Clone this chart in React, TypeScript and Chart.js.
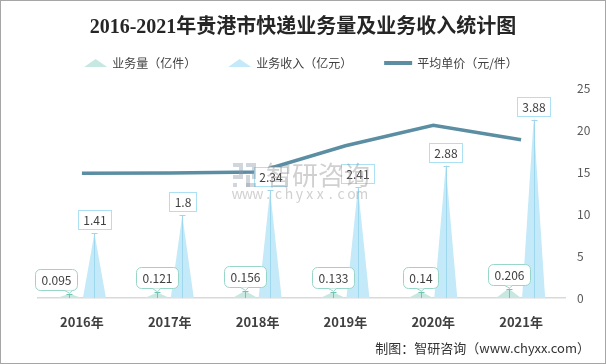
import React, { useEffect, useRef } from 'react';
import { Chart, registerables } from 'chart.js';

Chart.register(...registerables);

const years = ['2016年', '2017年', '2018年', '2019年', '2020年', '2021年'];
const volume = [0.095, 0.121, 0.156, 0.133, 0.14, 0.206];
const revenue = [1.41, 1.8, 2.34, 2.41, 2.88, 3.88];
const avgPrice = [14.84, 14.88, 15.0, 18.12, 20.57, 18.83];
const seriesNames = ['业务量（亿件）', '业务收入（亿元）', '平均单价（元/件）'];
const titleText = '2016-2021年贵港市快递业务量及业务收入统计图';
const footerText = '制图：智研咨询（www.chyxx.com）';

const FONT = '"Noto Sans CJK SC", "Noto Sans", sans-serif';
const GREEN = '#c7e7e1';
const GREEN_LINE = '#6fc4b2';
const GREEN_BORDER = '#98d6c9';
const BLUE = '#c4e9f8';
const BLUE_LINE = '#9ed8ef';
const BLUE_BORDER = '#ace0f3';
const LINE = '#5b8ea3';
const TEXT = '#404040';

function roundRect(ctx: CanvasRenderingContext2D, x: number, y: number, w: number, h: number, r: number) {
  ctx.beginPath();
  ctx.moveTo(x + r, y);
  ctx.lineTo(x + w - r, y);
  ctx.arcTo(x + w, y, x + w, y + r, r);
  ctx.lineTo(x + w, y + h - r);
  ctx.arcTo(x + w, y + h, x + w - r, y + h, r);
  ctx.lineTo(x + r, y + h);
  ctx.arcTo(x, y + h, x, y + h - r, r);
  ctx.lineTo(x, y + r);
  ctx.arcTo(x, y, x + r, y, r);
  ctx.closePath();
}

const spikePlugin = {
  id: 'spikes',
  beforeDatasetsDraw(chart: any) {
    const ctx: CanvasRenderingContext2D = chart.ctx;
    ctx.save();
    [0, 1].forEach((di) => {
      const meta = chart.getDatasetMeta(di);
      meta.data.forEach((bar: any) => {
        const { x, y, base, width } = bar.getProps(['x', 'y', 'base', 'width'], true);
        ctx.fillStyle = di === 0 ? GREEN : BLUE;
        ctx.beginPath();
        ctx.moveTo(x - width / 2, base);
        ctx.lineTo(x, y);
        ctx.lineTo(x + width / 2, base);
        ctx.closePath();
        ctx.fill();
      });
    });
    ctx.restore();
  },
  afterDatasetsDraw(chart: any) {
    const ctx: CanvasRenderingContext2D = chart.ctx;
    ctx.save();
    ctx.font = `12px ${FONT}`;
    ctx.textAlign = 'center';
    ctx.textBaseline = 'middle';
    ctx.lineWidth = 1;
    // revenue labels
    const metaR = chart.getDatasetMeta(1);
    metaR.data.forEach((bar: any, i: number) => {
      const { x, y, base } = bar.getProps(['x', 'y', 'base'], true);
      const px = Math.round(x) + 0.5;
      ctx.strokeStyle = BLUE_LINE;
      ctx.beginPath();
      ctx.moveTo(px, base);
      ctx.lineTo(px, y);
      ctx.moveTo(px - 3, Math.round(y) + 0.5);
      ctx.lineTo(px + 3, Math.round(y) + 0.5);
      ctx.stroke();
      const txt = String(revenue[i]);
      const w = Math.round(ctx.measureText(txt).width + 10);
      const h = 19;
      const bx = Math.round(x - w / 2) + 0.5;
      const by = Math.round(y - 4 - h) + 0.5;
      ctx.fillStyle = '#fff';
      ctx.fillRect(bx, by, w, h);
      ctx.strokeStyle = BLUE_BORDER;
      ctx.strokeRect(bx, by, w, h);
      ctx.fillStyle = TEXT;
      ctx.fillText(txt, bx + w / 2, by + h / 2 + 0.5);
    });
    // volume labels
    const metaV = chart.getDatasetMeta(0);
    metaV.data.forEach((bar: any, i: number) => {
      const { x, y, base } = bar.getProps(['x', 'y', 'base'], true);
      const px = Math.round(x) + 0.5;
      ctx.strokeStyle = GREEN_LINE;
      ctx.beginPath();
      ctx.moveTo(px, base);
      ctx.lineTo(px, y);
      ctx.moveTo(px - 3, Math.round(y) + 0.5);
      ctx.lineTo(px + 3, Math.round(y) + 0.5);
      ctx.stroke();
      const txt = String(volume[i]);
      const w = Math.round(ctx.measureText(txt).width + 12);
      const h = 21;
      const cx = x + (i === 0 ? -13 : 0);
      const bx = Math.round(cx - w / 2) + 0.5;
      const bottom = Math.round(y - 4) + 0.5;
      const by = bottom - h;
      ctx.fillStyle = '#fff';
      roundRect(ctx, bx, by, w, h, 5);
      ctx.fill();
      ctx.strokeStyle = GREEN_BORDER;
      ctx.stroke();
      // tail
      ctx.beginPath();
      ctx.moveTo(px - 5, bottom);
      ctx.lineTo(px, y - 0.5);
      ctx.lineTo(px + 3, bottom);
      ctx.closePath();
      ctx.fillStyle = '#fff';
      ctx.fill();
      ctx.beginPath();
      ctx.moveTo(px - 5, bottom);
      ctx.lineTo(px, y - 0.5);
      ctx.lineTo(px + 3, bottom);
      ctx.stroke();
      ctx.fillStyle = TEXT;
      ctx.fillText(txt, bx + w / 2, by + h / 2 + 0.5);
    });
    ctx.restore();
  },
};

const legendPlugin = {
  id: 'customLegend',
  afterDraw(chart: any) {
    const ctx: CanvasRenderingContext2D = chart.ctx;
    ctx.save();
    ctx.font = `12px ${FONT}`;
    ctx.textBaseline = 'middle';
    ctx.textAlign = 'left';
    const items = chart.data.datasets.map((d: any, i: number) => ({ text: d.label as string, i }));
    const gap = 5;
    const itemGap = 32;
    const iconWs = items.map((it: any) => (it.i === 2 ? 28 : 23));
    const widths = items.map((it: any, k: number) => iconWs[k] + gap + ctx.measureText(it.text).width);
    const total = widths.reduce((a: number, b: number) => a + b, 0) + itemGap * (items.length - 1);
    let x = 300 - total / 2;
    const cy = 62;
    items.forEach((it: any, k: number) => {
      const iw = iconWs[k];
      if (it.i === 2) {
        ctx.strokeStyle = LINE;
        ctx.lineWidth = 4;
        ctx.beginPath();
        ctx.moveTo(x, cy);
        ctx.lineTo(x + iw, cy);
        ctx.stroke();
      } else {
        ctx.fillStyle = it.i === 0 ? GREEN : BLUE;
        ctx.beginPath();
        ctx.moveTo(x, cy + 4);
        ctx.lineTo(x + iw / 2, cy - 4);
        ctx.lineTo(x + iw, cy + 4);
        ctx.closePath();
        ctx.fill();
      }
      ctx.fillStyle = TEXT;
      ctx.fillText(it.text, x + iw + gap, cy);
      x += widths[k] + itemGap;
    });
    ctx.restore();
  },
};

const watermarkPlugin = {
  id: 'watermark',
  afterDraw(chart: any) {
    const ctx: CanvasRenderingContext2D = chart.ctx;
    ctx.save();
    ctx.globalAlpha = 0.4;
    ctx.fillStyle = '#8c96a8';
    ctx.fillRect(232, 162, 10, 4);
    ctx.fillRect(238, 166, 4, 8);
    ctx.fillRect(232, 174, 10, 4);
    ctx.fillRect(232, 182, 4, 4);
    ctx.fillRect(245, 162, 10, 4);
    ctx.fillRect(251, 166, 4, 12);
    ctx.fillRect(245, 174, 4, 12);
    ctx.fillRect(245, 182, 10, 4);
    ctx.fillStyle = '#8a8a8a';
    ctx.font = `26px ${FONT}`;
    ctx.textBaseline = 'middle';
    ctx.textAlign = 'left';
    ctx.fillText('智研咨询', 265, 174);
    ctx.font = `14px ${FONT}`;
    const s = 'www.chyxx.com';
    for (let k = 0; k < s.length; k++) {
      ctx.textAlign = 'center';
      ctx.fillText(s[k], 236 + k * 10.4, 193);
    }
    ctx.restore();
  },
};

export default function App() {
  const ref = useRef<HTMLCanvasElement>(null);
  useEffect(() => {
    const canvas = ref.current!;
    const chart = new Chart(canvas, {
      type: 'bar',
      data: {
        labels: years,
        datasets: [
          {
            type: 'bar',
            label: seriesNames[0],
            data: volume,
            yAxisID: 'y',
            backgroundColor: 'rgba(0,0,0,0)',
            borderWidth: 0,
            barPercentage: 1,
            categoryPercentage: 0.57,
          },
          {
            type: 'bar',
            label: seriesNames[1],
            data: revenue,
            yAxisID: 'y',
            backgroundColor: 'rgba(0,0,0,0)',
            borderWidth: 0,
            barPercentage: 0.92,
            categoryPercentage: 0.57,
          },
          {
            type: 'line',
            label: seriesNames[2],
            data: avgPrice,
            yAxisID: 'y1',
            borderColor: LINE,
            backgroundColor: LINE,
            borderWidth: 3.5,
            pointRadius: 0,
            tension: 0,
            fill: false,
          },
        ],
      } as any,
      options: {
        responsive: false,
        animation: false,
        layout: { padding: { left: 15, right: 15, top: 0, bottom: 0 } },
        plugins: {
          legend: { display: false },
          tooltip: { enabled: false },
          title: {
            display: true,
            text: titleText,
            color: '#262626',
            font: { family: '"Liberation Serif", "Noto Sans CJK SC", serif', size: 20, weight: 'bold' },
            padding: { top: 15, bottom: 48 },
          },
          subtitle: {
            display: true,
            position: 'bottom',
            align: 'end',
            text: footerText,
            color: '#333',
            font: { family: FONT, size: 13 },
            padding: { top: 10.2, bottom: 7.2 },
          },
        },
        scales: {
          x: {
            grid: { display: false, drawTicks: false },
            border: { display: true, color: '#d9d9d9', width: 1.5 },
            ticks: { padding: 16, color: TEXT, font: { size: 13, weight: 'bold', family: FONT } },
            afterFit: (s: any) => {
              s.height = 32;
            },
          },
          y: {
            position: 'left',
            min: 0,
            max: 4.57,
            grid: { display: false, drawTicks: false },
            border: { display: false },
            ticks: { display: false },
            afterFit: (s: any) => {
              s.width = 22;
            },
          },
          y1: {
            position: 'right',
            min: 0,
            max: 25,
            grid: { display: false, drawTicks: false },
            border: { display: false },
            ticks: { stepSize: 5, padding: 12, color: '#595959', font: { size: 12, family: FONT } },
            afterFit: (s: any) => {
              s.width = 25;
            },
          },
        },
      } as any,
      plugins: [spikePlugin, legendPlugin, watermarkPlugin],
    });
    return () => chart.destroy();
  }, []);

  return (
    <div
      style={{
        position: 'fixed',
        left: 0,
        top: 0,
        width: 606,
        height: 364,
        boxSizing: 'border-box',
        border: '1px solid #a6a6a6',
        background: '#fff',
      }}
    >
      <canvas ref={ref} width={604} height={362} style={{ display: 'block', width: 604, height: 362 }} />
    </div>
  );
}
